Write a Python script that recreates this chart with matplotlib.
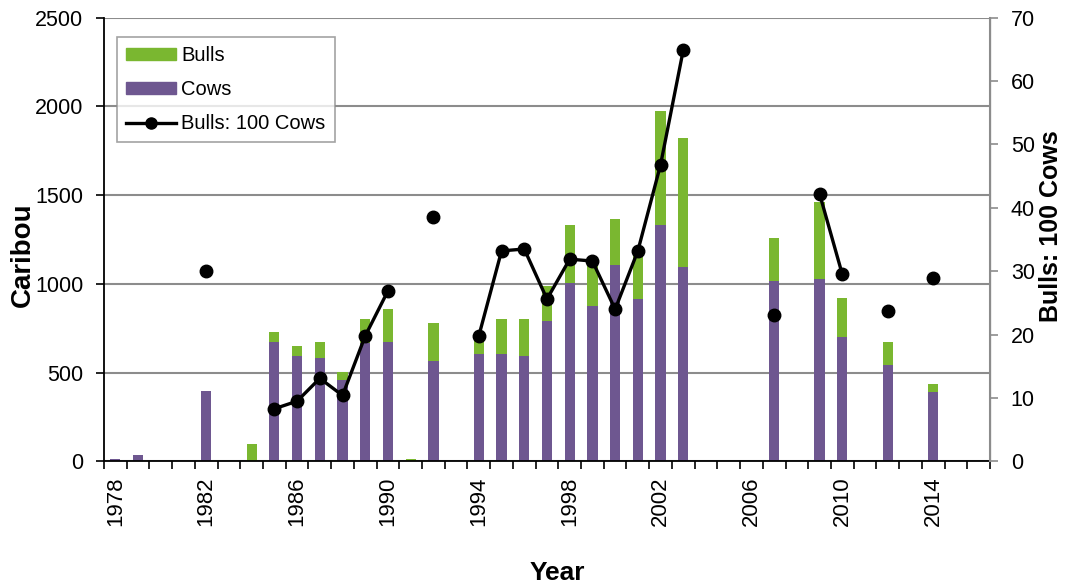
import numpy as np
import matplotlib
matplotlib.use("Agg")
import matplotlib.pyplot as plt
from matplotlib.patches import Patch
from matplotlib.lines import Line2D

plt.rcParams['font.family'] = ['Liberation Sans', 'DejaVu Sans']

# survey years 1978-2016 (one category per year)
years = list(range(1978, 2017))
nan = np.nan
cows = [15, 35, 0, 0, 395, 0, 0, 675, 595, 585, 457, 665, 675, 0, 565, 0,
        607, 607, 596, 790, 1005, 877, 1104, 913, 1331, 1095, 0, 0, 0,
        1018, 0, 1030, 703, 0, 543, 0, 393, 0, 0]
bulls = [0, 0, 0, 0, 0, 0, 100, 55, 57, 88, 45, 137, 182, 15, 216, 0,
         110, 195, 206, 198, 326, 265, 261, 267, 641, 725, 0, 0, 0,
         239, 0, 431, 219, 0, 130, 0, 43, 0, 0]
ratio = [nan, nan, nan, nan, 30.1, nan, nan, 8.3, 9.5, 13.1, 10.4, 19.8, 26.9, nan, 38.6, nan,
         19.8, 33.2, 33.5, 25.6, 31.9, 31.6, 24.0, 33.2, 46.8, 64.9, nan, nan, nan,
         23.1, nan, 42.2, 29.5, nan, 23.7, nan, 28.9, nan, nan]
label_years = list(range(1978, 2017, 4))

GREEN = '#7AB730'
PURPLE = '#6E5790'
GRID = '#8C8C8C'

fig = plt.figure(figsize=(10.7, 5.87), dpi=100)
ax = fig.add_axes([0.0972, 0.214, 0.8280, 0.756])
ax2 = ax.twinx()

x = np.arange(len(years))
ax.bar(x, cows, width=0.45, color=PURPLE, zorder=2)
ax.bar(x, bulls, width=0.45, bottom=cows, color=GREEN, zorder=2)
ax2.plot(x, ratio, color='black', lw=2.4, marker='o', ms=9, zorder=3)

ax.set_xlim(-0.5, len(years) - 0.5)
ax.set_ylim(0, 2500)
ax.set_yticks(range(0, 2501, 500))
ax2.set_ylim(0, 70)
ax2.set_yticks(range(0, 71, 10))

ax.yaxis.grid(True, color=GRID, lw=1.5, zorder=0)
ax.set_axisbelow(True)

ax.set_xticks([years.index(y) for y in label_years])
ax.set_xticklabels([str(y) for y in label_years], rotation=90)
ax.set_xticks(np.arange(-0.5, len(years), 1), minor=True)
ax.tick_params(axis='x', which='major', length=0, pad=11, labelsize=16)
ax.tick_params(axis='x', which='minor', length=6, width=1.2, direction='out')
ax.tick_params(axis='y', length=6, width=1.2, labelsize=15.5, pad=9)
ax2.tick_params(axis='y', length=6, width=1.2, color=GRID, labelsize=15.5, pad=9)

ax.spines['top'].set_visible(False)
ax2.spines['top'].set_visible(False)
ax.spines['left'].set_linewidth(1.3)
ax.spines['bottom'].set_linewidth(1.3)
ax2.spines['right'].set_color(GRID)
ax2.spines['right'].set_linewidth(1.5)
ax2.spines['left'].set_visible(False)
ax2.spines['bottom'].set_visible(False)

ax.set_ylabel('Caribou', fontsize=20, fontweight='bold')
ax.yaxis.set_label_coords(-0.077, 0.465)
ax2.set_ylabel('Bulls: 100 Cows', fontsize=18, fontweight='bold')
ax2.yaxis.set_label_coords(1.055, 0.53)
ax.set_xlabel('Year', fontsize=19, fontweight='bold')
ax.xaxis.set_label_coords(0.512, -0.224)

handles = [Patch(color=GREEN, label='Bulls'),
           Patch(color=PURPLE, label='Cows'),
           Line2D([], [], color='black', lw=2.4, marker='o', ms=8, label='Bulls: 100 Cows')]
leg = ax2.legend(handles=handles, loc='upper left', bbox_to_anchor=(0.0147, 0.956),
                 borderaxespad=0, fontsize=14.5, frameon=True, fancybox=False,
                 edgecolor=GRID, handlelength=2.5, handleheight=0.55, borderpad=0.45,
                 labelspacing=0.75, handletextpad=0.25)
leg.get_frame().set_linewidth(1.2)

fig.savefig('out.png', dpi=100)
